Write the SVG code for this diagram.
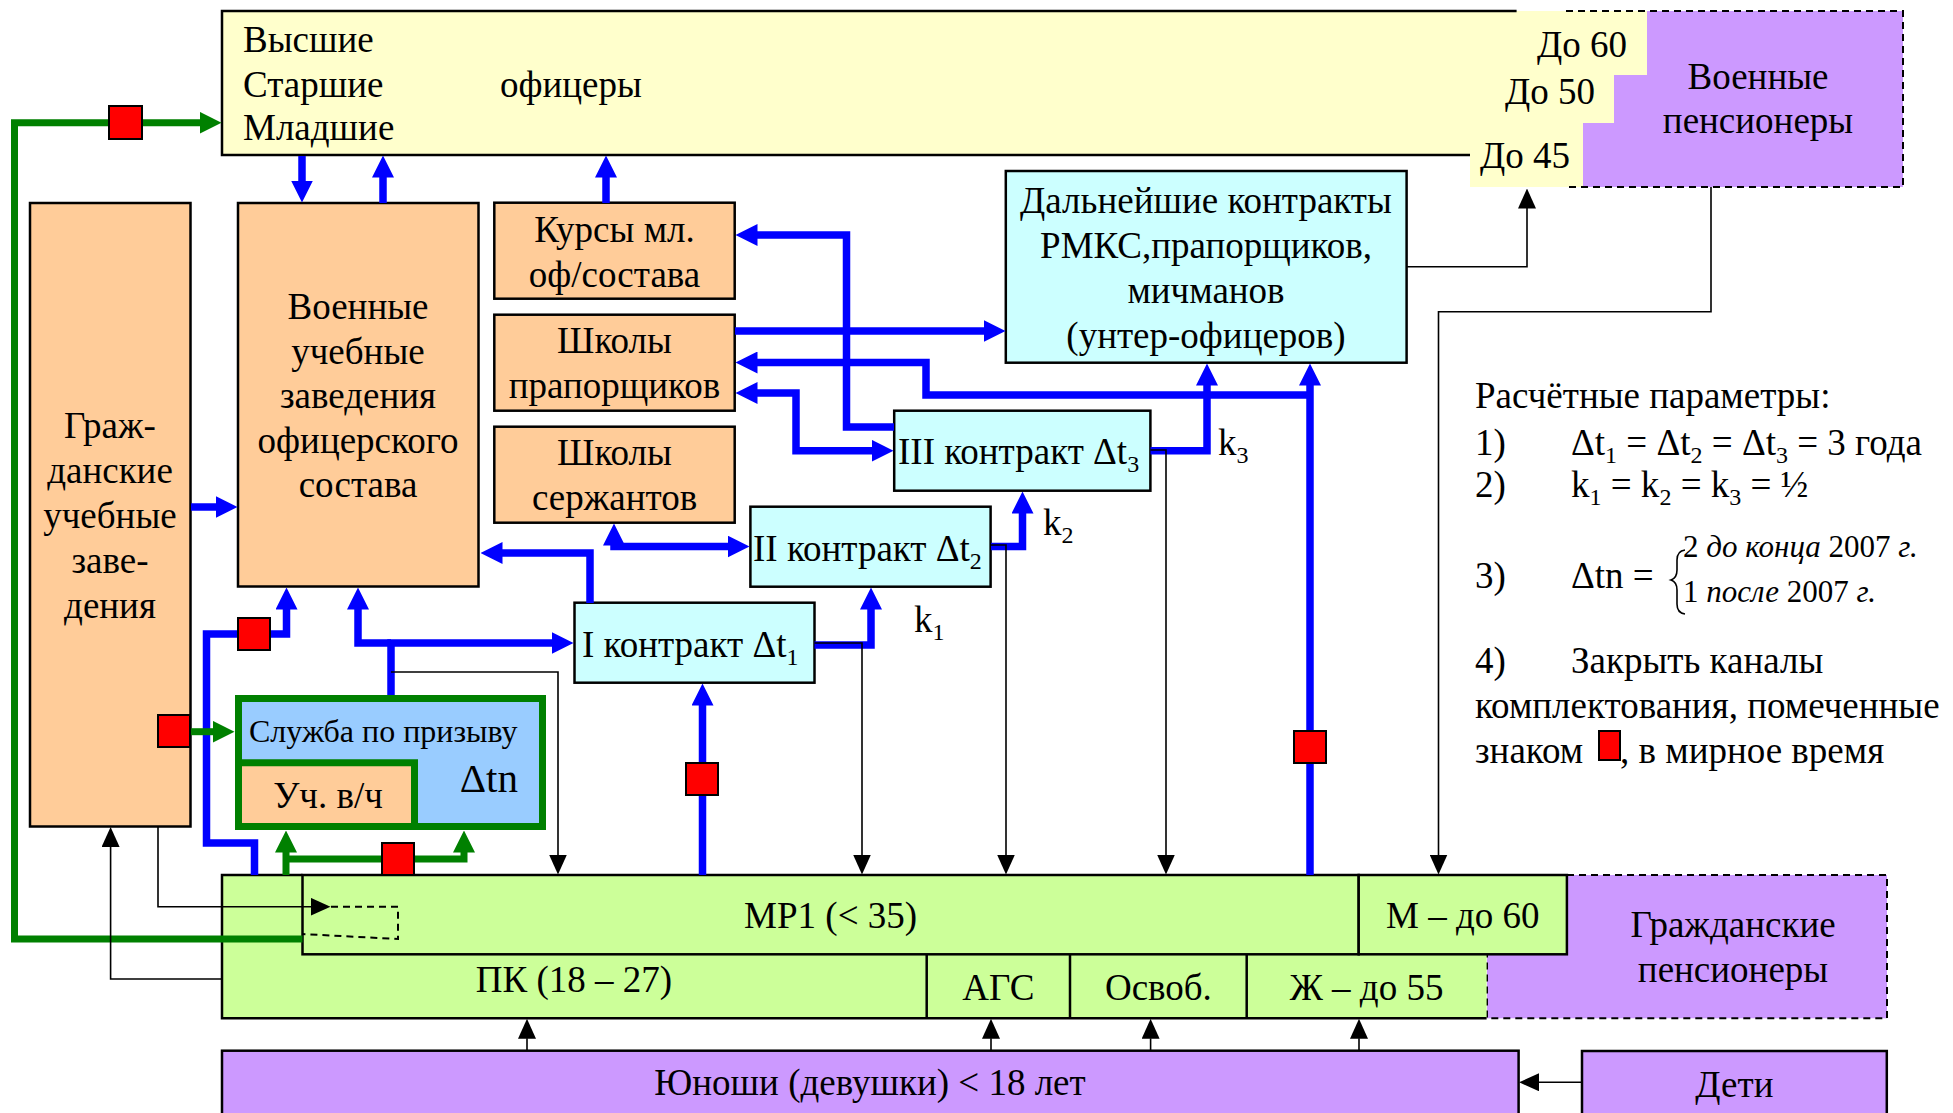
<svg xmlns="http://www.w3.org/2000/svg" width="1953" height="1113" viewBox="0 0 1953 1113">
<style>
.t{font-family:"Liberation Serif","Times New Roman",serif;font-size:37px;fill:#000}
.c{text-anchor:middle}
.e{text-anchor:end}
.s{font-size:24px}
.bx{stroke:#000;stroke-width:2.5}
.or{fill:#FFCC99}.cy{fill:#CCFFFF}.gr{fill:#CCFF99}.pu{fill:#CC99FF}.ye{fill:#FFFFCC}
.bl{stroke:#0000FF;stroke-width:7.5;fill:none;stroke-linejoin:miter;marker-end:url(#ab)}
.gn{stroke:#008000;stroke-width:7;fill:none;marker-end:url(#ag)}
.k{stroke:#000;stroke-width:1.6;fill:none;marker-end:url(#ak)}
.ln{stroke:#000;stroke-width:2.5;fill:none}
.ds{stroke:#000;stroke-width:2;fill:none;stroke-dasharray:7,5}
.red{fill:#FF0000;stroke:#000;stroke-width:2}
</style>
<defs>
<marker id="ab" markerUnits="userSpaceOnUse" markerWidth="22" markerHeight="22" viewBox="0 0 22 22" refX="0.5" refY="11" orient="auto-start-reverse"><path d="M0,0L22,11L0,22z" fill="#0000FF"/></marker>
<marker id="ag" markerUnits="userSpaceOnUse" markerWidth="22" markerHeight="22" viewBox="0 0 22 22" refX="0.5" refY="11" orient="auto-start-reverse"><path d="M0,0L22,11L0,22z" fill="#008000"/></marker>
<marker id="ak" markerUnits="userSpaceOnUse" markerWidth="20" markerHeight="18" viewBox="0 0 20 18" refX="0.5" refY="9" orient="auto-start-reverse"><path d="M0,0L20,9L0,18z" fill="#000"/></marker>
</defs>
<rect width="1953" height="1113" fill="#fff"/>

<g id="voen-pens">
<rect x="1566" y="11" width="337" height="176" class="pu"/>
</g>
<g id="officers">
<path class="ye" d="M222,11H1647V75H1614V123H1583V187H1470V155H222z"/>
<path class="ln" d="M1516.6,11H222V155H1470"/>
<text class="t" x="243" y="52">Высшие</text>
<text class="t" x="243" y="97">Старшие</text>
<text class="t" x="243" y="140">Младшие</text>
<text class="t" x="500" y="97">офицеры</text>
<text class="t e" x="1627" y="57">До 60</text>
<text class="t e" x="1595" y="104">До 50</text>
<text class="t e" x="1570" y="168">До 45</text>
</g>
<g id="voen-pens-label">
<path class="ds" d="M1566,11H1903V187H1566"/>
<text class="t c" x="1758" y="89">Военные</text>
<text class="t c" x="1758" y="133">пенсионеры</text>
</g>

<g id="grazh-uch">
<rect x="30" y="203" width="160.5" height="623.5" class="or bx"/>
<text class="t c" x="110" y="438">Граж-</text>
<text class="t c" x="110" y="483">данские</text>
<text class="t c" x="110" y="528">учебные</text>
<text class="t c" x="110" y="573">заве-</text>
<text class="t c" x="110" y="618">дения</text>
</g>
<g id="voen-uch">
<rect x="238" y="203" width="240.5" height="383.5" class="or bx"/>
<text class="t c" x="358" y="319">Военные</text>
<text class="t c" x="358" y="364">учебные</text>
<text class="t c" x="358" y="408">заведения</text>
<text class="t c" x="358" y="453">офицерского</text>
<text class="t c" x="358" y="497">состава</text>
</g>
<g id="kursy">
<rect x="494.3" y="202.7" width="240.4" height="96" class="or bx"/>
<text class="t c" x="614.5" y="242">Курсы мл.</text>
<text class="t c" x="614.5" y="287">оф/состава</text>
</g>
<g id="shk-prap">
<rect x="494.3" y="314.7" width="240.4" height="96" class="or bx"/>
<text class="t c" x="614.5" y="353">Школы</text>
<text class="t c" x="614.5" y="398">прапорщиков</text>
</g>
<g id="shk-serzh">
<rect x="494.3" y="426.7" width="240.4" height="96" class="or bx"/>
<text class="t c" x="614.5" y="465">Школы</text>
<text class="t c" x="614.5" y="510">сержантов</text>
</g>
<g id="dalnejshie">
<rect x="1005.8" y="171" width="400.8" height="191.7" class="cy bx"/>
<text class="t c" x="1206" y="213">Дальнейшие контракты</text>
<text class="t c" x="1206" y="258">РМКС,прапорщиков,</text>
<text class="t c" x="1206" y="303">мичманов</text>
<text class="t c" x="1206" y="348">(унтер-офицеров)</text>
</g>
<g id="kontrakt3">
<rect x="894.2" y="410.7" width="256.2" height="80" class="cy bx"/>
<text class="t" x="898" y="464">III контракт Δt<tspan class="s" dy="8">3</tspan></text>
</g>
<g id="kontrakt2">
<rect x="750.4" y="506.7" width="240.2" height="80" class="cy bx"/>
<text class="t" x="753" y="561">II контракт Δt<tspan class="s" dy="8">2</tspan></text>
</g>
<g id="kontrakt1">
<rect x="574.5" y="602.7" width="240" height="80" class="cy bx"/>
<text class="t" x="582" y="657">I контракт Δt<tspan class="s" dy="8">1</tspan></text>
</g>
<g id="sluzhba">
<rect x="238.5" y="698.5" width="304" height="128" fill="#99CCFF" stroke="#008000" stroke-width="7"/>
<rect x="242" y="766" width="169" height="57" class="or"/>
<path d="M242,762.8H414.5V823" stroke="#008000" stroke-width="7" fill="none"/>
<text class="t" x="249" y="742" style="font-size:32px">Служба по призыву</text>
<text class="t c" x="328" y="808">Уч. в/ч</text>
<text class="t e" x="518" y="792" style="font-size:41px">Δtn</text>
</g>

<g id="grazh-pens">
<rect x="1487" y="875" width="400" height="143.3" class="pu"/>
<path class="ds" d="M1567,875H1887V1018.3H1487V954.3"/>
<text class="t c" x="1733" y="937">Гражданские</text>
<text class="t c" x="1733" y="982">пенсионеры</text>
</g>
<g id="pk">
<rect x="222" y="875" width="1264.6" height="143.3" class="gr"/>
<path class="ln" d="M1486.6,1018.3H222V875H302.5"/>
<path class="ln" d="M926.7,954.3V1018.3M1070,954.3V1018.3M1246.7,954.3V1018.3"/>
<text class="t c" x="574" y="992">ПК (18 – 27)</text>
<text class="t c" x="998.4" y="1000">АГС</text>
<text class="t c" x="1158.4" y="1000">Освоб.</text>
<text class="t c" x="1366.6" y="1000">Ж – до 55</text>
</g>
<g id="mr1">
<rect x="302.5" y="875" width="1056.2" height="79.3" class="gr bx"/>
<text class="t c" x="830.6" y="928">МР1 (&lt; 35)</text>
</g>
<g id="m60">
<rect x="1358.7" y="875" width="208.2" height="79.3" class="gr bx"/>
<text class="t c" x="1462.8" y="928">М – до 60</text>
</g>
<g id="yunoshi">
<rect x="222" y="1050.7" width="1296.6" height="80" class="pu bx"/>
<text class="t c" x="870" y="1095">Юноши (девушки) &lt; 18 лет</text>
</g>
<g id="deti">
<rect x="1582" y="1051" width="304.8" height="80" class="pu bx"/>
<text class="t c" x="1734.4" y="1097">Дети</text>
</g>

<g id="legend">
<text class="t" x="1475" y="408">Расчётные параметры:</text>
<text class="t" x="1475" y="455">1)</text>
<text class="t" x="1571" y="455">Δt<tspan class="s" dy="8">1</tspan><tspan dy="-8"> = Δt</tspan><tspan class="s" dy="8">2</tspan><tspan dy="-8"> = Δt</tspan><tspan class="s" dy="8">3</tspan><tspan dy="-8"> = 3 года</tspan></text>
<text class="t" x="1475" y="497">2)</text>
<text class="t" x="1571" y="497">k<tspan class="s" dy="8">1</tspan><tspan dy="-8"> = k</tspan><tspan class="s" dy="8">2</tspan><tspan dy="-8"> = k</tspan><tspan class="s" dy="8">3</tspan><tspan dy="-8"> = ½</tspan></text>
<text class="t" x="1475" y="588">3)</text>
<text class="t" x="1571" y="588">Δtn =</text>
<path d="M1685,550Q1677,551 1677,560V570Q1677,578 1671,580Q1677,582 1677,590V604Q1677,613 1685,614" stroke="#000" stroke-width="1.6" fill="none"/>
<text class="t" x="1683" y="557" style="font-size:31px">2 <tspan font-style="italic">до конца</tspan> 2007 <tspan font-style="italic">г.</tspan></text>
<text class="t" x="1683" y="602" style="font-size:31px">1 <tspan font-style="italic">после</tspan> 2007 <tspan font-style="italic">г.</tspan></text>
<text class="t" x="1475" y="673">4)</text>
<text class="t" x="1571" y="673">Закрыть каналы</text>
<text class="t" x="1475" y="718">комплектования, помеченные</text>
<text class="t" x="1475" y="763">знаком</text>
<rect x="1599" y="731" width="21" height="29" class="red"/>
<text class="t" x="1620" y="763">, в мирное время</text>
</g>

<g id="connectors">
<path class="bl" d="M302,156V181"/>
<path class="bl" d="M383,203V177"/>
<path class="bl" d="M606,203V177"/>
<path class="bl" d="M191,507H216"/>
<path class="bl" d="M254.5,875V843H206.5V634H286.5V609"/>
<path class="bl" d="M391,695V643H552"/>
<path class="bl" d="M391,643H358V609"/>
<path class="bl" d="M590,603V553H502"/>
<path class="bl" d="M614,545V546.5H728" marker-start="url(#ab)"/>
<path class="bl" d="M991,546.5H1022.5V513"/>
<path class="bl" d="M814.5,645H871V609"/>
<path class="bl" d="M1150.5,450.7H1207V385"/>
<path class="bl" d="M1310,875V385"/>
<path class="bl" d="M1310,395H926V362.5H757"/>
<path class="bl" d="M894,427H846.5V235H757"/>
<path class="bl" d="M735,331H984"/>
<path class="bl" d="M757,393H796V450.7H872" marker-start="url(#ab)"/>
<path class="bl" d="M702.5,875V705"/>
<path class="gn" d="M302.5,939H14.5V122.7H200"/>
<path class="gn" d="M190.5,731.7H213"/>
<path class="gn" d="M286,875V852"/>
<path class="gn" d="M286,859H464V852"/>
<path class="k" d="M1406.6,266.7H1527V208"/>
<path class="k" d="M1711,187V311.7H1438.5V855"/>
<path class="k" d="M1150.5,450H1166V855"/>
<path class="k" d="M990.6,545H1006V855"/>
<path class="k" d="M814.5,643H862V855"/>
<path class="k" d="M391,672H558V855"/>
<path class="k" d="M158,826.5V906.7H311"/>
<path class="ds" d="M331,906.7H398V939L302.5,934"/>
<path class="k" d="M222,979H110.6V846.5"/>
<path class="k" d="M527,1050.7V1038.3"/>
<path class="k" d="M991,1050.7V1038.3"/>
<path class="k" d="M1150.6,1050.7V1038.3"/>
<path class="k" d="M1359,1050.7V1038.3"/>
<path class="k" d="M1582,1082.3H1538.6"/>
<rect x="109" y="106" width="33" height="33" class="red"/>
<rect x="238" y="618" width="32" height="32" class="red"/>
<rect x="158" y="715" width="32" height="32" class="red"/>
<rect x="382" y="843" width="32" height="32" class="red"/>
<rect x="686" y="763" width="32" height="32" class="red"/>
<rect x="1294" y="731" width="32" height="32" class="red"/>
<text class="t" x="914" y="632">k<tspan class="s" dy="8">1</tspan></text>
<text class="t" x="1043" y="535">k<tspan class="s" dy="8">2</tspan></text>
<text class="t" x="1218" y="455">k<tspan class="s" dy="8">3</tspan></text>
</g>
</svg>
